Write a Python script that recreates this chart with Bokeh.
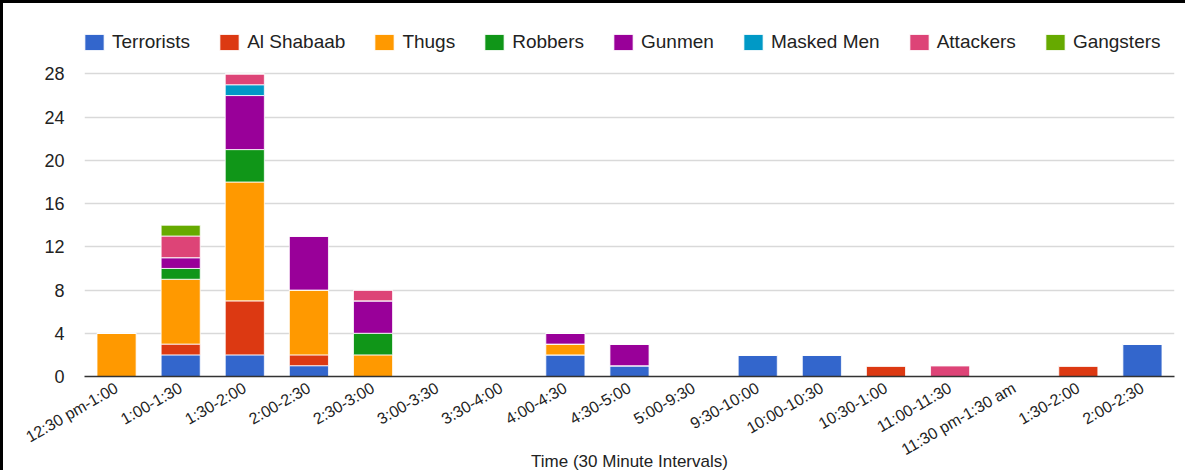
from bokeh.plotting import figure
from bokeh.models import ColumnDataSource, Range1d, FixedTicker, Legend, LegendItem
from bokeh.embed import file_html
from bokeh.resources import INLINE
from math import pi

intervals = ["12:30 pm-1:00", "1:00-1:30", "1:30-2:00", "2:00-2:30", "2:30-3:00",
             "3:00-3:30", "3:30-4:00", "4:00-4:30", "4:30-5:00", "5:00-9:30",
             "9:30-10:00", "10:00-10:30", "10:30-1:00", "11:00-11:30",
             "11:30 pm-1:30 am", "1:30-2:00", "2:00-2:30"]

terrorists = [0, 2, 2, 1, 0, 0, 0, 2, 1, 0, 2, 2, 0, 0, 0, 0, 3]
al_shabaab = [0, 1, 5, 1, 0, 0, 0, 0, 0, 0, 0, 0, 1, 0, 0, 1, 0]
thugs      = [4, 6, 11, 6, 2, 0, 0, 1, 0, 0, 0, 0, 0, 0, 0, 0, 0]
robbers    = [0, 1, 3, 0, 2, 0, 0, 0, 0, 0, 0, 0, 0, 0, 0, 0, 0]
gunmen     = [0, 1, 5, 5, 3, 0, 0, 1, 2, 0, 0, 0, 0, 0, 0, 0, 0]
masked_men = [0, 0, 1, 0, 0, 0, 0, 0, 0, 0, 0, 0, 0, 0, 0, 0, 0]
attackers  = [0, 2, 1, 0, 1, 0, 0, 0, 0, 0, 0, 0, 0, 1, 0, 0, 0]
gangsters  = [0, 1, 0, 0, 0, 0, 0, 0, 0, 0, 0, 0, 0, 0, 0, 0, 0]

series_names = ["Terrorists", "Al Shabaab", "Thugs", "Robbers", "Gunmen",
                "Masked Men", "Attackers", "Gangsters"]
series_values = [terrorists, al_shabaab, thugs, robbers, gunmen,
                 masked_men, attackers, gangsters]
colors = ["#3366cc", "#dc3912", "#ff9900", "#109618", "#990099",
          "#0099c6", "#dd4477", "#66aa00"]
y_ticks = [0, 4, 8, 12, 16, 20, 24, 28]
x_title = "Time (30 Minute Intervals)"

FONT = "Liberation Sans"

keys = ["s%d" % i for i in range(len(series_names))]
data = {"x": list(range(len(intervals)))}
for k, v in zip(keys, series_values):
    data[k] = v
src = ColumnDataSource(data)

# y range extends above 28 to leave room for the legend inside the frame
p = figure(width=1185, height=470, output_backend="svg", toolbar_location=None,
           x_range=Range1d(-0.5, len(intervals) - 0.5), y_range=Range1d(0, 34.52),
           min_border_left=81, min_border_right=14, min_border_top=0,
           min_border_bottom=94)
p.styles = {"border-top": "3px solid #000000", "border-left": "3px solid #000000"}
p.outline_line_color = None
p.background_fill_color = "white"

renderers = p.vbar_stack(keys, x="x", width=0.61, source=src,
                         fill_color=colors, line_color="white", line_width=1,
                         line_alpha=0.8)

# x axis
p.xaxis.ticker = FixedTicker(ticks=list(range(len(intervals))))
p.xaxis.major_label_overrides = {i: lab for i, lab in enumerate(intervals)}
p.xaxis.major_label_orientation = pi / 6
p.xaxis.major_tick_out = 0
p.xaxis.major_tick_in = 0
p.xaxis.major_label_standoff = 10
p.xaxis.major_label_text_font = FONT
p.xaxis.major_label_text_font_size = "16px"
p.xaxis.major_label_text_color = "#222222"
p.xaxis.major_tick_line_color = None
p.xaxis.minor_tick_line_color = None
p.xaxis.axis_line_color = "#333333"
p.xaxis.axis_line_width = 1.5
p.xaxis.axis_label = x_title
p.xaxis.axis_label_standoff = -17
p.xaxis.axis_label_text_font = FONT
p.xaxis.axis_label_text_font_size = "17px"
p.xaxis.axis_label_text_font_style = "normal"
p.xaxis.axis_label_text_color = "#222222"

# y axis
p.yaxis.ticker = FixedTicker(ticks=y_ticks)
p.yaxis.major_tick_out = 0
p.yaxis.major_tick_in = 0
p.yaxis.major_label_standoff = 20
p.yaxis.major_label_text_font = FONT
p.yaxis.major_label_text_font_size = "18px"
p.yaxis.major_label_text_color = "#222222"
p.yaxis.major_tick_line_color = None
p.yaxis.minor_tick_line_color = None
p.yaxis.axis_line_color = None

p.xgrid.grid_line_color = None
p.ygrid.grid_line_color = "#d9d9d9"
p.ygrid.grid_line_width = 1.5

# legend (inside the frame, in the band above the 28 gridline)
items = [LegendItem(label=n, renderers=[r]) for n, r in zip(series_names, renderers)]
legend = Legend(items=items, orientation="horizontal", location=(-2, 323),
                margin=0, padding=0, spacing=27, label_standoff=6,
                glyph_width=24, glyph_height=20,
                label_text_font=FONT, label_text_font_size="19px",
                label_text_color="#222222", border_line_color=None,
                background_fill_alpha=0)
p.add_layout(legend)

open("out.html", "w").write(file_html(p, INLINE))
